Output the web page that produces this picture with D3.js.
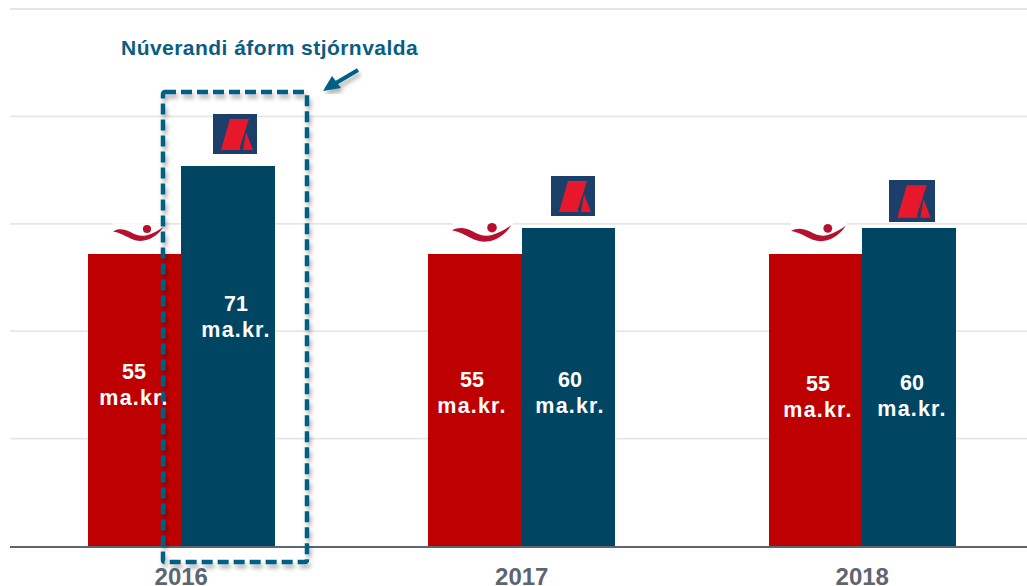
<!DOCTYPE html>
<html>
<head>
<meta charset="utf-8">
<script src="https://cdn.jsdelivr.net/npm/d3@7"></script>
<style>
  html, body { margin: 0; padding: 0; background: #fff; }
  svg { display: block; }
  text { font-family: "Liberation Sans", Arial, sans-serif; font-weight: bold; }
</style>
</head>
<body>
<div id="container"></div>
<script>
var years = ["2016", "2017", "2018"];
var seriesNames = ["a", "b"];
// bar heights as measured, the printed labels are rounded
var barsA = [54.4, 54.4, 54.4];
var barsB = [70.8, 59.2, 59.2];
var labelsA = ["55", "55", "55"];
var labelsB = ["71", "60", "60"];
var gridTicks = [0, 20, 40, 60, 80, 100];
var unitLabel = "ma.kr.";
var calloutText = "Núverandi áform stjórnvalda";

var chartWidth = 1027, chartHeight = 586;
var red = "#bf0000", blue = "#004562", dashBlue = "#005f85", grey = "#5d6670";

var chart = d3.select("#container").
append("svg").
attr("width", chartWidth).
attr("height", chartHeight);

var defs = chart.append("defs");
var shadow = defs.append("filter").
attr("id", "shadow").
attr("x", "-10%").attr("y", "-10%").
attr("width", "120%").attr("height", "120%");
shadow.append("feDropShadow").
attr("dx", 2).attr("dy", 4).
attr("stdDeviation", 2).
attr("flood-color", "#000").
attr("flood-opacity", 0.3);

var y = d3.scaleLinear().domain([0, 100]).range([546, 9]);
var x = d3.scaleBand().domain(years).range([11, 1032.5]).paddingInner(0.45).paddingOuter(0.225);
var xInner = d3.scaleBand().domain(seriesNames).range([0, x.bandwidth()]);

// gridlines
chart.append("g").selectAll("line").
data(gridTicks.slice(1)).
enter().
append("line").
attr("x1", 10).
attr("x2", chartWidth).
attr("y1", function (d) {return y(d);}).
attr("y2", function (d) {return y(d);}).
attr("stroke", "#e6e6e6").
attr("stroke-width", 1.8);

// logo + white patch behind the swoosh
function drawSwoosh(px, py, scale) {
  var g = chart.append("g").attr("transform", "translate(" + px + "," + py + ") scale(" + scale + ")");
  g.append("rect").attr("x", 0).attr("y", -2).attr("width", 61).attr("height", 6).attr("fill", "#fff");
  g.append("circle").attr("cx", 40).attr("cy", 4.7).attr("r", 4.8).attr("fill", "#b5112e");
  g.append("path").
  attr("d", "M0,7.5 C6,4 13,4.5 20,8 C27,12 33,14 40,12 C47,10 54,6 59.5,2 C55,9 47,17 35,18.6 C26,19.5 19,15 13,12 C8,9.5 4,8 0,7.5 Z").
  attr("fill", "#b5112e");
}

function drawLogo(px, py, w, h) {
  var g = chart.append("g").attr("transform", "translate(" + px + "," + py + ") scale(" + w / 44 + "," + h / 40 + ")");
  g.append("rect").attr("width", 44).attr("height", 40).attr("fill", "#1b3f68");
  g.append("path").
  attr("d", "M17,5 L36,5 L27,33 Q26.5,36 29,36 L8,36 Z M33,18 L40,36 L30,36 Z").
  attr("fill", "#e8182c");
}

// bars
var groups = chart.append("g").selectAll("g").
data(years).
enter().
append("g").
attr("transform", function (d) {return "translate(" + x(d) + ",0)";});

groups.append("rect").
attr("x", xInner("a")).
attr("y", function (d, i) {return y(barsA[i]);}).
attr("width", xInner.bandwidth()).
attr("height", function (d, i) {return y(0) - y(barsA[i]);}).
attr("fill", red).
attr("shape-rendering", "crispEdges");

groups.append("rect").
attr("x", xInner("b")).
attr("y", function (d, i) {return y(barsB[i]);}).
attr("width", xInner.bandwidth()).
attr("height", function (d, i) {return y(0) - y(barsB[i]);}).
attr("fill", blue).
attr("shape-rendering", "crispEdges");

// baseline
chart.append("line").
attr("x1", 10).attr("x2", chartWidth).
attr("y1", y(0) + 1).attr("y2", y(0) + 1).
attr("stroke", grey).
attr("stroke-width", 2);

drawSwoosh(113, 225, 0.85);
drawSwoosh(452, 223, 1);
drawSwoosh(791, 224, 0.92);
drawLogo(213, 114, 44, 40);
drawLogo(551, 176, 44, 40);
drawLogo(889, 180, 46, 42);

// callout box and arrow
chart.append("rect").
attr("x", 163).attr("y", 92).
attr("width", 144).attr("height", 470).
attr("rx", 2).
attr("fill", "none").
attr("stroke", dashBlue).
attr("stroke-width", 4.5).
attr("stroke-dasharray", "11 5").
attr("filter", "url(#shadow)");

var arrow = chart.append("g").attr("filter", "url(#shadow)");
arrow.append("line").
attr("x1", 358).attr("y1", 70).
attr("x2", 336).attr("y2", 83).
attr("stroke", dashBlue).
attr("stroke-width", 4);
arrow.append("path").
attr("d", "M323,91 L332,76 L341,88 Z").
attr("fill", dashBlue);

chart.append("text").
attr("x", 121).
attr("y", 55).
attr("font-size", 21).
attr("letter-spacing", 0.46).
attr("fill", "#0a5c82").
text(calloutText);

// value labels, placed by hand as in the reference
var labelXA = [134, 472, 818];
var labelXB = [236, 570, 912];
var labelYA = [371, 379, 383];
var labelYB = [303, 379, 382];

function drawLabel(cx, cy, value) {
  var t = chart.append("text").attr("text-anchor", "middle").attr("fill", "#fff").attr("font-size", 21.5);
  t.append("tspan").attr("x", cx).attr("y", cy + 8).text(value);
  t.append("tspan").attr("x", cx).attr("y", cy + 34).attr("letter-spacing", 1.2).text(unitLabel);
}

years.forEach(function (yr, i) {
  drawLabel(labelXA[i], labelYA[i], labelsA[i]);
  drawLabel(labelXB[i], labelYB[i], labelsB[i]);
});

// year labels
chart.append("g").selectAll("text").
data(years).
enter().
append("text").
attr("x", function (d) {return x(d) + x.bandwidth() / 2;}).
attr("y", 585).
attr("text-anchor", "middle").
attr("font-size", 24).
attr("fill", grey).
text(function (d) {return d;});
</script>
</body>
</html>
